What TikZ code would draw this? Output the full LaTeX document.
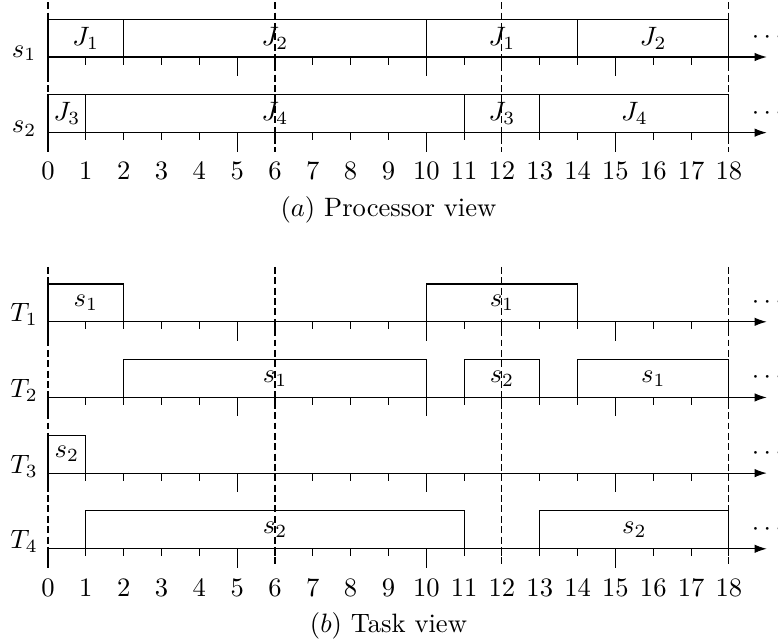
\documentclass[tikz,border=0pt]{standalone}
\usetikzlibrary{arrows.meta}
\begin{document}
\begin{tikzpicture}[x=0.5cm,y=0.5cm,
  axisline/.style={line width=0.4pt,-{Latex[length=4.6pt,width=3.2pt]}},
  slot/.style={draw,line width=0.4pt},
  tickline/.style={line width=0.4pt},
  guide/.style={line width=0.4pt,dash pattern=on 2.6pt off 1.3pt},
  lbl/.style={anchor=base},
  dotsnode/.style={anchor=base west,inner sep=0pt}]
\useasboundingbox (-1.269,-15.411) rectangle (19.297,1.507);
% boxes
\foreach \y/\a/\b/\t/\nm in {
  0/0/2/{$J_1$}/pa, 0/2/10/{$J_2$}/pb, 0/10/14/{$J_1$}/pc, 0/14/18/{$J_2$}/pd,
  -2/0/1/{$J_3$}/pe, -2/1/11/{$J_4$}/pf, -2/11/13/{$J_3$}/pg, -2/13/18/{$J_4$}/ph,
  -7/0/2/{$s_1$}/ta, -7/10/14/{$s_1$}/tb,
  -9/2/10/{$s_1$}/tc, -9/11/13/{$s_2$}/td, -9/14/18/{$s_1$}/te,
  -11/0/1/{$s_2$}/tf,
  -13/1/11/{$s_2$}/tg, -13/13/18/{$s_2$}/th}{
  \draw[slot] (\a,\y) rectangle (\b,\y+1);
  \node (\nm) at ({(\a+\b)/2},\y+0.5) {\t};
}
% axes, row labels, dots
\foreach \y/\n/\nm in {0/{$s_1$}/s1, -2/{$s_2$}/s2, -7/{$T_1$}/T1, -9/{$T_2$}/T2, -11/{$T_3$}/T3, -13/{$T_4$}/T4}{
  \draw[axisline] (0,\y) -- (19,\y);
  \foreach \i in {0,5,10,15}{\draw[tickline] (\i,\y) -- (\i,\y-0.5);}
  \foreach \i in {1,2,3,4,6,7,8,9,11,12,13,14,16,17,18}{\draw[tickline] (\i,\y) -- (\i,\y-0.2);}
  \node[lbl] (lab\nm) at (-0.63,\y) {\n};
  \node[dotsnode] (dots\nm) at (18.59,\y+0.36) {$\cdots$};
}
% numbers
\foreach \i in {0,...,18}{
  \node[lbl] (na\i) at (\i,-3.25) {\i};
  \node[lbl] (nb\i) at (\i,-14.25) {\i};
}
% dashed guides
\foreach \x in {0,6,12,18}{
  \draw[guide] (\x,1.45) -- (\x,-2.5);
  \draw[guide] (\x,-5.55) -- (\x,-13.5);
}
% captions
\node[lbl] (capa) at (9,-4.22) {$(a)$ Processor view};
\node[lbl] (capb) at (9,-15.22) {$(b)$ Task view};
\end{tikzpicture}
\end{document}
